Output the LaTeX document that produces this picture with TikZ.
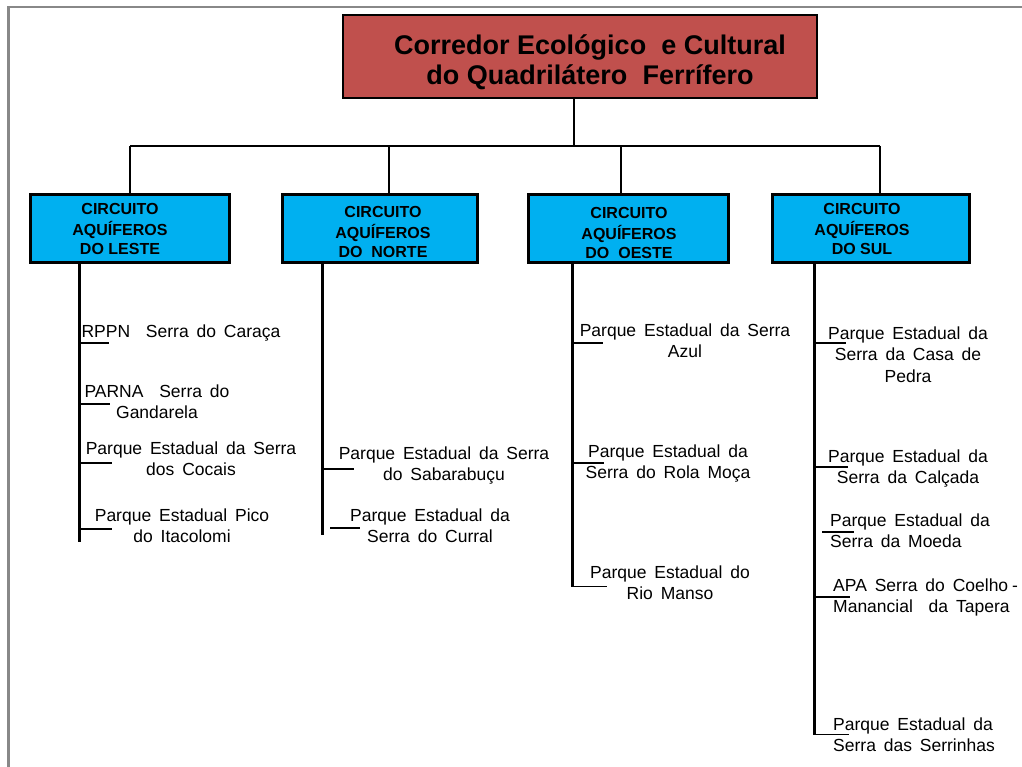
\documentclass[tikz,border=0pt]{standalone}
\usepackage{fontspec}
\setmainfont{Liberation Sans}
\usetikzlibrary{calc}
\definecolor{titlered}{RGB}{192,80,77}
\definecolor{circblue}{RGB}{0,176,240}
\definecolor{framegray}{RGB}{136,136,136}
\newcommand\itmc[1]{\begin{tabular}[t]{@{}c@{}}#1\end{tabular}}
\newcommand\itml[1]{\begin{tabular}[t]{@{}l@{}}#1\end{tabular}}
\newcommand\itemfont{\fontsize{17.5}{21.7}\selectfont\spaceskip=0.45em plus 0.1em\relax}
\begin{document}
\begin{tikzpicture}[x=1pt,y=-1pt,
  titlebox/.style={draw=black, line width=2.5pt, fill=titlered, minimum width=474pt, minimum height=83pt, inner sep=0pt},
  circbox/.style={draw=black, line width=3pt, fill=circblue, minimum height=68pt, inner sep=0pt},
  titletext/.style={inner sep=0pt, anchor=base, font=\fontsize{27}{30}\selectfont\bfseries},
  circtext/.style={inner sep=0pt, anchor=base, font=\fontsize{16}{19.5}\selectfont\bfseries},
  itemc/.style={inner sep=0pt, anchor=base, font=\itemfont},
  iteml/.style={itemc, anchor=base west},
  conn/.style={draw=black, line width=2pt},
  spine/.style={draw=black, line width=3pt},
  tickline/.style={draw=black, line width=1.6pt}
]
\useasboundingbox (0,0) rectangle (1022,767);
\fill[white] (0,0) rectangle (1022,767);
% frame
\draw[framegray, line width=2.5pt] (8.5,770) -- (8.5,7) -- (1030,7);

% title
\node[titlebox] (title) at (580,56.5) {};
\node[titletext] (titleT) at (590,55) {\itmc{Corredor Ecológico\ \ e Cultural\\do Quadrilátero\ \ Ferrífero}};

% circuit boxes
\node[circbox, minimum width=199pt] (leste) at (129.5,229) {};
\node[circbox, minimum width=195pt] (norte) at (379.5,229) {};
\node[circbox, minimum width=200pt] (oeste) at (628,229) {};
\node[circbox, minimum width=197pt] (sul) at (870.5,229) {};
\node[circtext] (lesteT) at (120,215) {\itmc{CIRCUITO\\AQUÍFEROS\\DO LESTE}};
\node[circtext] (norteT) at (383,218) {\itmc{CIRCUITO\\AQUÍFEROS\\DO\ \ NORTE}};
\node[circtext] (oesteT) at (629,219) {\itmc{CIRCUITO\\AQUÍFEROS\\DO\ \ OESTE}};
\node[circtext] (sulT) at (862,215) {\itmc{CIRCUITO\\AQUÍFEROS\\DO SUL}};

% tree connectors
\coordinate (j) at (574,146);
\coordinate (dL) at (130,146);
\coordinate (dN) at (389,146);
\coordinate (dO) at (621,146);
\coordinate (dS) at (880,146);
\draw[conn] (title.south -| j) -- (j);
\draw[conn] (dL) -- (dS);
\draw[conn] (dL) -- (leste.north -| dL);
\draw[conn] (dN) -- (norte.north -| dN);
\draw[conn] (dO) -- (oeste.north -| dO);
\draw[conn] (dS) -- (sul.north -| dS);

% spines
\coordinate (sL) at (79,542);
\coordinate (sN) at (322,535);
\coordinate (sO) at (572,587);
\coordinate (sS) at (814,735);
\draw[spine] (leste.south -| sL) -- (sL);
\draw[spine] (norte.south -| sN) -- (sN);
\draw[spine] (oeste.south -| sO) -- (sO);
\draw[spine] (sul.south -| sS) -- (sS);

% Leste items
\node[itemc] (L1) at (181,337) {\itmc{RPPN\ \ Serra do Caraça}};
\node[itemc] (L2) at (157,397) {\itmc{PARNA\ \ Serra do\\Gandarela}};
\node[itemc] (L3) at (191,454) {\itmc{Parque Estadual da Serra\\dos Cocais}};
\node[itemc] (L4) at (182,521) {\itmc{Parque Estadual Pico\\do Itacolomi}};
\draw[tickline] (sL |- 0,343) -- ++(30,0);
\draw[tickline] (sL |- 0,404) -- ++(31,0);
\draw[tickline] (sL |- 0,463) -- ++(33,0);
\draw[tickline] (sL |- 0,529) -- ++(33,0);

% Norte items
\node[itemc] (N1) at (444,459) {\itmc{Parque Estadual da Serra\\do Sabarabuçu}};
\node[itemc] (N2) at (430,521) {\itmc{Parque Estadual da\\Serra do Curral}};
\draw[tickline] (sN |- 0,469) -- ++(32,0);
\draw[tickline] ($(sN |- 0,528)+(8,0)$) -- ++(30,0);

% Oeste items
\node[itemc] (O1) at (685,336) {\itmc{Parque Estadual da Serra\\Azul}};
\node[itemc] (O2) at (668,457) {\itmc{Parque Estadual da\\Serra do Rola Moça}};
\node[itemc] (O3) at (670,578) {\itmc{Parque Estadual do\\Rio Manso}};
\draw[tickline] (sO |- 0,343) -- ++(31,0);
\draw[tickline] (sO |- 0,463) -- ++(32,0);
\draw[tickline] (sO |- 0,586.5) -- ++(35,0);

% Sul items
\node[itemc] (S1) at (908,339) {\itmc{Parque Estadual da\\Serra da Casa de\\Pedra}};
\node[itemc] (S2) at (908,462) {\itmc{Parque Estadual da\\Serra da Calçada}};
\node[iteml] (S3) at (830,526) {\itml{Parque Estadual da\\Serra da Moeda}};
\node[iteml] (S4) at (833,591) {\itml{APA Serra do Coelho\hspace{4pt}-\\Manancial\ \ da Tapera}};
\node[iteml] (S5) at (833,730) {\itml{Parque Estadual da\\Serra das Serrinhas}};
\draw[tickline] (sS |- 0,343) -- ++(32,0);
\draw[tickline] (sS |- 0,467) -- ++(34,0);
\draw[tickline] ($(sS |- 0,532)+(8,0)$) -- ++(32,0);
\draw[tickline] (sS |- 0,597) -- ++(36,0);
\draw[tickline] (sS |- 0,734.5) -- ++(35,0);
\end{tikzpicture}
\end{document}
